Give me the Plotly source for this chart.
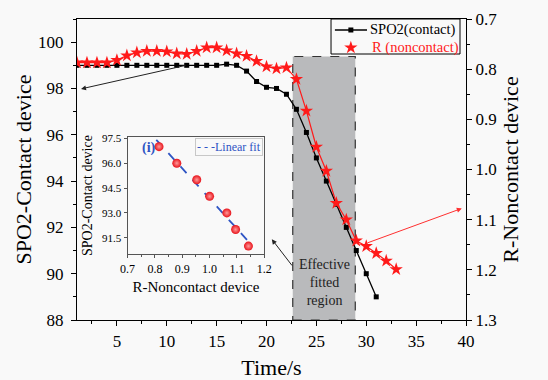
import plotly.graph_objects as go

# ---------------- data ----------------
time_spo2 = list(range(1, 32))
spo2_contact = [99.0, 99.0, 99.0, 99.0, 99.0, 99.0, 99.0, 99.0, 99.0, 99.0,
                99.0, 99.0, 99.0, 99.0, 99.0, 99.05, 99.0, 98.75, 98.3, 98.05,
                98.0, 97.75, 97.1, 96.1, 95.0, 94.0, 93.0, 92.0, 91.0, 90.0, 89.0]

time_r = list(range(1, 34))
r_noncontact = [0.787, 0.787, 0.787, 0.787, 0.782, 0.773, 0.767, 0.764, 0.764, 0.765,
                0.769, 0.770, 0.764, 0.757, 0.757, 0.763, 0.769, 0.774, 0.784, 0.795,
                0.799, 0.797, 0.820, 0.883, 0.955, 1.003, 1.067, 1.100, 1.142, 1.153,
                1.167, 1.182, 1.199]

inset_r = [0.815, 0.880, 0.953, 1.000, 1.063, 1.095, 1.142]
inset_spo2 = [97.0, 96.0, 95.0, 94.0, 93.0, 92.0, 91.0]

x_ticks = [5, 10, 15, 20, 25, 30, 35, 40]
y_ticks = [88, 90, 92, 94, 96, 98, 100]
y2_ticks = [0.7, 0.8, 0.9, 1.0, 1.1, 1.2, 1.3]
inset_x_ticks = [0.7, 0.8, 0.9, 1.0, 1.1, 1.2]
inset_y_ticks = [91.5, 93.0, 94.5, 96.0, 97.5]

legend_names = ["SPO2(contact)", "R (noncontact)"]

# linear fit of inset points (least squares)
n = len(inset_r)
mx = sum(inset_r) / n
my = sum(inset_spo2) / n
slope = sum((a - mx) * (b - my) for a, b in zip(inset_r, inset_spo2)) / sum((a - mx) ** 2 for a in inset_r)
icpt = my - slope * mx
fit_x = [0.805, 1.153]
fit_y = [icpt + slope * v for v in fit_x]

SERIF = "Liberation Serif, Times New Roman, DejaVu Serif, serif"
BG = "#f9f9f9"
BLUE = "#2f55c4"
RED = "#ff1a1a"

# legend geometry (fractions of the main plot area)
LG_X0, LG_X1, LG_Y0, LG_Y1 = 0.653, 0.9846, 0.8837, 1.0
ROW1, ROW2 = 0.9635, 0.9047
SAMPLE_X0, SAMPLE_X1, SAMPLE_XM, TEXT_X = 0.663, 0.7455, 0.704, 0.748

fig = go.Figure()

fig.add_trace(go.Scatter(
    x=time_spo2, y=spo2_contact, mode="lines+markers", name=legend_names[0],
    line=dict(color="black", width=1.3),
    marker=dict(symbol="square", size=5, color="black"),
    xaxis="x", yaxis="y"))

fig.add_trace(go.Scatter(
    x=time_r, y=r_noncontact, mode="lines+markers", name=legend_names[1],
    line=dict(color=RED, width=1.2),
    marker=dict(symbol="star", size=10, color=RED, line=dict(width=0)),
    xaxis="x", yaxis="y2"))

# inset
fig.add_trace(go.Scatter(
    x=fit_x, y=fit_y, mode="lines", name="Linear fit",
    line=dict(color=BLUE, width=1.8, dash="dash"),
    xaxis="x3", yaxis="y3"))

fig.add_trace(go.Scatter(
    x=inset_r, y=inset_spo2, mode="markers", name="inset",
    marker=dict(symbol="circle", size=9, color="#e8121a",
                gradient=dict(type="radial", color="#ff9a9a"), line=dict(width=0)),
    xaxis="x3", yaxis="y3"))

# legend glyphs (drawn on invisible overlay axes spanning the main plot area)
fig.add_trace(go.Scatter(
    x=[SAMPLE_X0, SAMPLE_X1], y=[ROW1, ROW1], mode="lines", line=dict(color="black", width=1.3),
    xaxis="x4", yaxis="y4", hoverinfo="skip"))
fig.add_trace(go.Scatter(
    x=[SAMPLE_XM], y=[ROW1], mode="markers", marker=dict(symbol="square", size=5, color="black"),
    xaxis="x4", yaxis="y4", hoverinfo="skip"))
fig.add_trace(go.Scatter(
    x=[SAMPLE_XM], y=[ROW2], mode="markers",
    marker=dict(symbol="star", size=10, color=RED, line=dict(width=0)),
    xaxis="x4", yaxis="y4", hoverinfo="skip"))

axis_common = dict(showline=True, linecolor="black", linewidth=1.2, showgrid=False,
                   zeroline=False, ticks="outside", tickcolor="black", ticklen=5, automargin=False,
                   tickfont=dict(family=SERIF, size=17, color="black"))

fig.update_layout(
    width=548, height=380,
    margin=dict(l=77, r=82, t=19, b=60),
    paper_bgcolor=BG, plot_bgcolor=BG,
    font=dict(family=SERIF, color="black"),
    showlegend=False,
    xaxis=dict(**axis_common, range=[1, 40], tickvals=x_ticks, mirror=True, ticklabelstandoff=0,
               minor=dict(dtick=2.5, tick0=0, ticks="outside", ticklen=3, tickcolor="black"),
               title=dict(text="Time/s", font=dict(family=SERIF, size=22), standoff=16)),
    yaxis=dict(**axis_common, range=[88, 101], tickvals=y_ticks, ticklabelstandoff=4,
               minor=dict(dtick=1, tick0=0, ticks="outside", ticklen=3, tickcolor="black"),
               title=dict(text="SPO2-Contact device", font=dict(family=SERIF, size=22), standoff=0)),
    yaxis2=dict(**axis_common, range=[1.3, 0.7], tickvals=y2_ticks, tickformat=".1f",
                overlaying="y", side="right",
                minor=dict(dtick=0.05, tick0=0, ticks="outside", ticklen=3, tickcolor="black"),
                title=dict(text="R-Noncontact device", font=dict(family=SERIF, size=22), standoff=6)),
    xaxis3=dict(domain=[0.130, 0.4815], anchor="y3", range=[0.7, 1.2], tickvals=inset_x_ticks,
                tickformat=".1f", showline=True, linecolor="#555", linewidth=1, mirror=True,
                showgrid=False, zeroline=False, ticks="outside", ticklen=3, tickcolor="#555",
                minor=dict(dtick=0.05, tick0=0, ticks="outside", ticklen=2, tickcolor="#555"),
                tickfont=dict(family=SERIF, size=12), ticklabelstandoff=0,
                title=dict(text="R-Noncontact device", font=dict(family=SERIF, size=15), standoff=6)),
    yaxis3=dict(domain=[0.218, 0.609], anchor="x3", range=[90.5, 97.6], tickvals=inset_y_ticks,
                tickformat=".1f", showline=True, linecolor="#555", linewidth=1, mirror=True,
                showgrid=False, zeroline=False, ticks="outside", ticklen=3, tickcolor="#555",
                tickfont=dict(family=SERIF, size=11),
                title=dict(text="SPO2-Contact device", font=dict(family=SERIF, size=14), standoff=6)),
    xaxis4=dict(overlaying="x", range=[0, 1], visible=False, fixedrange=True),
    yaxis4=dict(overlaying="y", range=[0, 1], visible=False, fixedrange=True),
)

# shaded effective fitted region
fig.add_shape(type="rect", xref="x", yref="y", x0=22.63, x1=28.9, y0=88, y1=99.38,
              fillcolor="#b9babc", line=dict(color="#333", width=1.2, dash="dash"), layer="below")
# legend box
fig.add_shape(type="rect", xref="paper", yref="paper", x0=LG_X0, x1=LG_X1, y0=LG_Y0, y1=LG_Y1,
              fillcolor=BG, line=dict(color="black", width=1), layer="below")

annos = [
    dict(x=TEXT_X, y=ROW1, xref="paper", yref="paper", xanchor="left", yanchor="middle",
         text=legend_names[0], showarrow=False, font=dict(family=SERIF, size=14.5, color="black")),
    dict(x=TEXT_X + 0.004, y=ROW2, xref="paper", yref="paper", xanchor="left", yanchor="middle",
         text=legend_names[1], showarrow=False, font=dict(family=SERIF, size=14.5, color=RED)),
    dict(x=25.77, y=89.6, xref="x", yref="y", text="Effective<br>fitted<br>region", showarrow=False,
         font=dict(family=SERIF, size=14, color="#222"), align="center", yanchor="middle"),
    dict(x=0.162, y=0.57, xref="paper", yref="paper", text="<b>(i)</b>", showarrow=False,
         font=dict(family=SERIF, size=14, color=BLUE)),
    # inset legend box for the linear fit
    dict(x=0.479, y=0.6056, xref="paper", yref="paper", xanchor="right", yanchor="top",
         text="- - -Linear fit", showarrow=False, font=dict(family=SERIF, size=12, color=BLUE),
         bordercolor="#c8c8c8", borderwidth=1, borderpad=1, bgcolor=BG),
    # arrows
    dict(x=1.4, y=97.98, ax=12.03, ay=99.01, xref="x", yref="y", axref="x", ayref="y",
         text="", showarrow=True, arrowhead=2, arrowsize=1, arrowwidth=1, arrowcolor="#222"),
    dict(x=20.53, y=91.49, ax=22.67, ay=90.29, xref="x", yref="y", axref="x", ayref="y",
         text="", showarrow=True, arrowhead=2, arrowsize=1, arrowwidth=1, arrowcolor="#222"),
    dict(x=39.58, y=92.82, ax=29.99, ay=91.31, xref="x", yref="y", axref="x", ayref="y",
         text="", showarrow=True, arrowhead=2, arrowsize=1, arrowwidth=1, arrowcolor="#ff3030"),
]
fig.update_layout(annotations=annos)

fig.write_html("out.html")
